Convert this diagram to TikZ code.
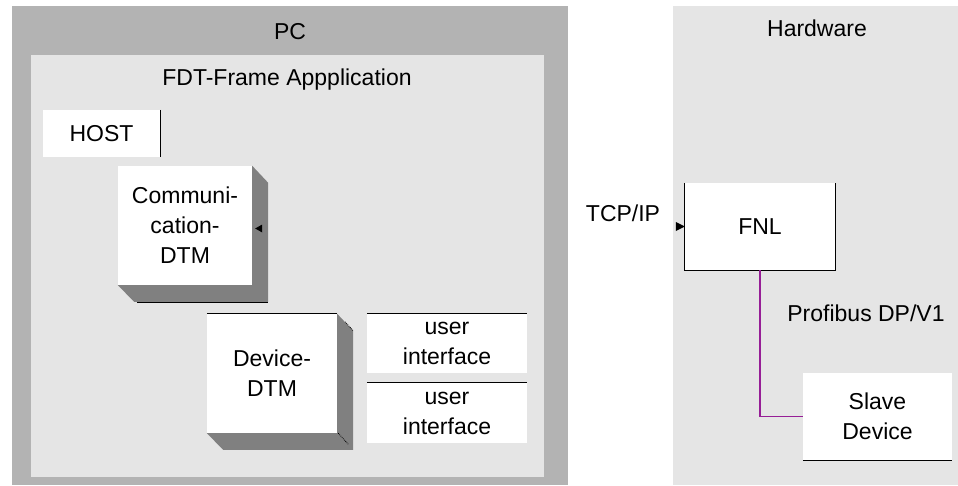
\documentclass[tikz,border=0pt]{standalone}
\usepackage{fontspec}
\setmainfont{Liberation Sans}
\usetikzlibrary{positioning}
\definecolor{pcgray}{RGB}{179,179,179}
\definecolor{framegray}{RGB}{229,229,229}
\definecolor{shadowgray}{RGB}{128,128,128}
\definecolor{busviolet}{RGB}{150,30,150}
\tikzstyle{heading} = [inner sep=0pt, text centered]
\tikzstyle{box} = [rectangle, fill=white, align=center, inner sep=0pt]
\tikzstyle{edge} = [line width=1.2pt, black]
\tikzstyle{bus} = [line width=1.3pt, busviolet]

\begin{document}
\begin{tikzpicture}[x=1pt, y=-1pt, font=\fontsize{23}{30}\selectfont]
\useasboundingbox (0,0) rectangle (958,485);
% Bereiche
\fill[pcgray] (12,6) rectangle (568,485);
\fill[framegray] (31,55) rectangle (544,477);
\fill[framegray] (673,6) rectangle (958,485);
\node (pc) [heading] at (290,32) {PC};
\node (frame) [heading] at (287,80) {FDT-Frame Appplication};
\node (hw) [heading] at (817,28) {Hardware};

% PC-Seite
\node (host) [box, minimum width=117pt, minimum height=47pt] at (101.5,133.5) {HOST};
\draw [edge] (host.north east) -- (host.south east);

\node (comm) [box, minimum width=134pt, minimum height=119pt] at (185,225.5) {Communi-\\cation-\\DTM};
\fill [shadowgray] (comm.north east) -- ++(16,17) -- ++(0,119) -- ++(-134,0) -- (comm.south west) -- (comm.south east) -- cycle;
\draw [edge] ([shift={(19,17)}]comm.south west) -- ++(131,0);
\fill ([shift={(3,3)}]comm.east) -- ++(7,-4) -- ++(0,8) -- cycle;

\node (dev) [box, minimum width=130pt, minimum height=119pt] at (272,373.5) {Device-\\DTM};
\fill [shadowgray] (dev.north east) -- ++(16,17) -- ++(0,119) -- ++(-130,0) -- (dev.south west) -- (dev.south east) -- cycle;
\draw [edge] (dev.north west) -- (dev.north east);
\draw [densely dotted, thick] ([shift={(8,8)}]dev.north east) -- ++(8,9);
\draw [densely dotted, thick] ([shift={(1,0)}]dev.south east) -- ++(10,11);

\node (ui1) [box, minimum width=160pt, minimum height=59pt] at (447,343.5) {user\\interface};
\node (ui2) [box, minimum width=160pt, minimum height=60pt] at (447,413) {user\\interface};
\draw [edge] (ui1.north west) -- (ui1.north east);
\draw [edge] (ui2.north west) -- (ui2.north east);

% Hardware-Seite
\node (fnl) [box, minimum width=150pt, minimum height=87pt] at (760,226.5) {FNL};
\draw [edge] (fnl.north west) -- (fnl.south west) -- (fnl.south east) -- (fnl.north east);
\fill ([shift={(-9,-4.5)}]fnl.west) -- ++(9,4.5) -- ++(-9,4.5) -- cycle;
\node (tcp) [heading] at (623,213) {TCP/IP};

\node (slave) [box, minimum width=149pt, minimum height=87pt] at (877.5,416.5) {Slave\\Device};
\draw [edge] (slave.south west) -- (slave.south east);
\node (profi) [heading] at (866,313) {Profibus DP/V1};

\draw [bus] (fnl.south) |- (slave.west);
\end{tikzpicture}
\end{document}
